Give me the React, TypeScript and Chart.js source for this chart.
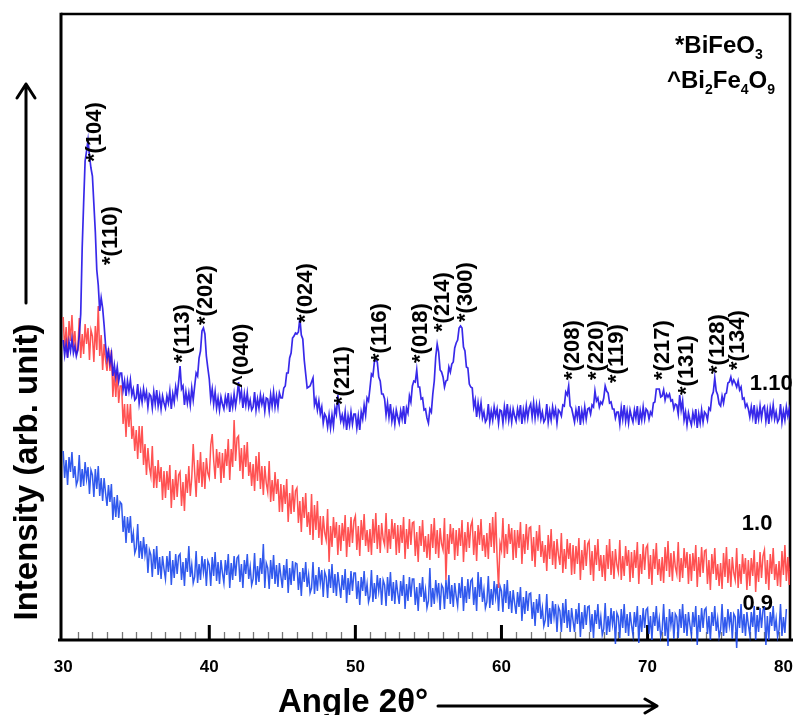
import React, { useEffect, useRef } from "react";
import { Chart, registerables } from "chart.js";

Chart.register(...registerables);

// 2θ sampling positions (degrees), one row per degree
const angles = [
  30, 30.1, 30.2, 30.3, 30.4, 30.5, 30.6, 30.7, 30.8, 30.9,
  31, 31.1, 31.2, 31.3, 31.4, 31.5, 31.6, 31.7, 31.8, 31.9,
  32, 32.1, 32.2, 32.3, 32.4, 32.5, 32.6, 32.7, 32.8, 32.9,
  33, 33.1, 33.2, 33.3, 33.4, 33.5, 33.6, 33.7, 33.8, 33.9,
  34, 34.1, 34.2, 34.3, 34.4, 34.5, 34.6, 34.7, 34.8, 34.9,
  35, 35.1, 35.2, 35.3, 35.4, 35.5, 35.6, 35.7, 35.8, 35.9,
  36, 36.1, 36.2, 36.3, 36.4, 36.5, 36.6, 36.7, 36.8, 36.9,
  37, 37.1, 37.2, 37.3, 37.4, 37.5, 37.6, 37.7, 37.8, 37.9,
  38, 38.1, 38.2, 38.3, 38.4, 38.5, 38.6, 38.7, 38.8, 38.9,
  39, 39.1, 39.2, 39.3, 39.4, 39.5, 39.6, 39.7, 39.8, 39.9,
  40, 40.1, 40.2, 40.3, 40.4, 40.5, 40.6, 40.7, 40.8, 40.9,
  41, 41.1, 41.2, 41.3, 41.4, 41.5, 41.6, 41.7, 41.8, 41.9,
  42, 42.1, 42.2, 42.3, 42.4, 42.5, 42.6, 42.7, 42.8, 42.9,
  43, 43.1, 43.2, 43.3, 43.4, 43.5, 43.6, 43.7, 43.8, 43.9,
  44, 44.1, 44.2, 44.3, 44.4, 44.5, 44.6, 44.7, 44.8, 44.9,
  45, 45.1, 45.2, 45.3, 45.4, 45.5, 45.6, 45.7, 45.8, 45.9,
  46, 46.1, 46.2, 46.3, 46.4, 46.5, 46.6, 46.7, 46.8, 46.9,
  47, 47.1, 47.2, 47.3, 47.4, 47.5, 47.6, 47.7, 47.8, 47.9,
  48, 48.1, 48.2, 48.3, 48.4, 48.5, 48.6, 48.7, 48.8, 48.9,
  49, 49.1, 49.2, 49.3, 49.4, 49.5, 49.6, 49.7, 49.8, 49.9,
  50, 50.1, 50.2, 50.3, 50.4, 50.5, 50.6, 50.7, 50.8, 50.9,
  51, 51.1, 51.2, 51.3, 51.4, 51.5, 51.6, 51.7, 51.8, 51.9,
  52, 52.1, 52.2, 52.3, 52.4, 52.5, 52.6, 52.7, 52.8, 52.9,
  53, 53.1, 53.2, 53.3, 53.4, 53.5, 53.6, 53.7, 53.8, 53.9,
  54, 54.1, 54.2, 54.3, 54.4, 54.5, 54.6, 54.7, 54.8, 54.9,
  55, 55.1, 55.2, 55.3, 55.4, 55.5, 55.6, 55.7, 55.8, 55.9,
  56, 56.1, 56.2, 56.3, 56.4, 56.5, 56.6, 56.7, 56.8, 56.9,
  57, 57.1, 57.2, 57.3, 57.4, 57.5, 57.6, 57.7, 57.8, 57.9,
  58, 58.1, 58.2, 58.3, 58.4, 58.5, 58.6, 58.7, 58.8, 58.9,
  59, 59.1, 59.2, 59.3, 59.4, 59.5, 59.6, 59.7, 59.8, 59.9,
  60, 60.1, 60.2, 60.3, 60.4, 60.5, 60.6, 60.7, 60.8, 60.9,
  61, 61.1, 61.2, 61.3, 61.4, 61.5, 61.6, 61.7, 61.8, 61.9,
  62, 62.1, 62.2, 62.3, 62.4, 62.5, 62.6, 62.7, 62.8, 62.9,
  63, 63.1, 63.2, 63.3, 63.4, 63.5, 63.6, 63.7, 63.8, 63.9,
  64, 64.1, 64.2, 64.3, 64.4, 64.5, 64.6, 64.7, 64.8, 64.9,
  65, 65.1, 65.2, 65.3, 65.4, 65.5, 65.6, 65.7, 65.8, 65.9,
  66, 66.1, 66.2, 66.3, 66.4, 66.5, 66.6, 66.7, 66.8, 66.9,
  67, 67.1, 67.2, 67.3, 67.4, 67.5, 67.6, 67.7, 67.8, 67.9,
  68, 68.1, 68.2, 68.3, 68.4, 68.5, 68.6, 68.7, 68.8, 68.9,
  69, 69.1, 69.2, 69.3, 69.4, 69.5, 69.6, 69.7, 69.8, 69.9,
  70, 70.1, 70.2, 70.3, 70.4, 70.5, 70.6, 70.7, 70.8, 70.9,
  71, 71.1, 71.2, 71.3, 71.4, 71.5, 71.6, 71.7, 71.8, 71.9,
  72, 72.1, 72.2, 72.3, 72.4, 72.5, 72.6, 72.7, 72.8, 72.9,
  73, 73.1, 73.2, 73.3, 73.4, 73.5, 73.6, 73.7, 73.8, 73.9,
  74, 74.1, 74.2, 74.3, 74.4, 74.5, 74.6, 74.7, 74.8, 74.9,
  75, 75.1, 75.2, 75.3, 75.4, 75.5, 75.6, 75.7, 75.8, 75.9,
  76, 76.1, 76.2, 76.3, 76.4, 76.5, 76.6, 76.7, 76.8, 76.9,
  77, 77.1, 77.2, 77.3, 77.4, 77.5, 77.6, 77.7, 77.8, 77.9,
  78, 78.1, 78.2, 78.3, 78.4, 78.5, 78.6, 78.7, 78.8, 78.9,
  79, 79.1, 79.2, 79.3, 79.4, 79.5, 79.6, 79.7, 79.8, 79.9,
  80,
];

// sample 1.10 (offset intensity, arb. unit)
const intensity110 = [
  300, 285, 296, 282, 298, 289, 301, 287, 294, 284,
  290, 305, 326, 392, 437, 479, 489, 500, 484, 472,
  464, 436, 408, 370, 355, 329, 342, 332, 315, 295,
  281, 289, 277, 286, 264, 275, 263, 273, 259, 267,
  267, 250, 259, 244, 259, 249, 260, 245, 251, 240,
  242, 256, 237, 248, 238, 251, 241, 248, 233, 246,
  244, 232, 248, 236, 250, 234, 244, 231, 244, 237,
  232, 244, 237, 249, 231, 246, 238, 253, 244, 258,
  274, 251, 254, 235, 248, 237, 247, 235, 252, 240,
  254, 267, 264, 282, 289, 309, 312, 306, 284, 272,
  261, 241, 251, 236, 248, 232, 242, 230, 243, 236,
  231, 243, 235, 247, 228, 242, 233, 246, 234, 244,
  258, 241, 249, 232, 246, 235, 247, 233, 240, 230,
  233, 248, 230, 241, 232, 245, 236, 243, 229, 242,
  241, 229, 245, 234, 248, 233, 244, 233, 247, 242,
  242, 252, 254, 267, 267, 282, 287, 302, 304, 307,
  306, 308, 322, 305, 301, 280, 266, 252, 253, 254,
  258, 262, 235, 241, 230, 239, 226, 233, 217, 226,
  223, 213, 225, 212, 225, 214, 232, 226, 245, 230,
  219, 225, 216, 228, 210, 224, 215, 228, 216, 226,
  226, 212, 224, 210, 228, 221, 235, 225, 242, 239,
  252, 266, 264, 278, 280, 278, 263, 259, 246, 246,
  241, 225, 237, 223, 236, 219, 228, 216, 230, 223,
  217, 229, 221, 234, 216, 232, 227, 244, 238, 254,
  259, 258, 270, 253, 253, 241, 242, 230, 231, 222,
  217, 231, 228, 246, 259, 283, 296, 288, 270, 268,
  263, 253, 259, 260, 273, 268, 276, 278, 292, 297,
  300, 312, 314, 312, 293, 289, 273, 272, 256, 253,
  252, 233, 240, 223, 237, 226, 237, 222, 228, 218,
  221, 236, 218, 229, 220, 233, 224, 231, 217, 230,
  229, 217, 233, 222, 236, 220, 230, 218, 231, 224,
  219, 231, 223, 235, 216, 230, 221, 234, 222, 232,
  236, 223, 237, 222, 235, 224, 235, 221, 228, 218,
  221, 236, 218, 229, 220, 233, 224, 231, 217, 230,
  228, 224, 235, 234, 248, 245, 254, 234, 232, 225,
  218, 230, 222, 234, 215, 229, 220, 233, 221, 231,
  232, 226, 235, 233, 249, 239, 242, 233, 238, 236,
  242, 254, 249, 247, 237, 238, 231, 231, 222, 228,
  228, 216, 232, 221, 235, 219, 229, 217, 230, 223,
  218, 230, 222, 234, 215, 229, 220, 233, 221, 231,
  229, 221, 228, 225, 237, 238, 251, 251, 251, 243,
  244, 250, 240, 246, 243, 246, 239, 240, 231, 236,
  235, 226, 245, 230, 239, 220, 228, 215, 227, 220,
  215, 227, 219, 231, 212, 226, 217, 230, 218, 228,
  226, 220, 232, 230, 244, 248, 262, 249, 245, 236,
  234, 244, 237, 246, 247, 257, 258, 263, 256, 260,
  257, 253, 259, 250, 253, 241, 242, 233, 236, 231,
  223, 233, 223, 235, 216, 230, 221, 234, 222, 232,
  234, 219, 230, 216, 232, 223, 235, 221, 228, 218,
  221, 236, 218, 229, 220, 233, 224, 231, 217, 230,
  226,
];

// sample 1.0
const intensity100 = [
  323, 289, 313, 283, 319, 299, 325, 293, 309, 287,
  290, 322, 282, 306, 286, 316, 296, 312, 280, 310,
  304, 278, 314, 290, 334, 284, 305, 270, 296, 280,
  269, 292, 269, 290, 243, 268, 243, 268, 237, 254,
  254, 216, 236, 203, 236, 213, 236, 201, 214, 189,
  210, 181, 214, 187, 214, 175, 196, 165, 192, 173,
  164, 194, 152, 174, 152, 180, 158, 173, 140, 169,
  142, 169, 150, 175, 132, 161, 140, 170, 143, 165,
  168, 134, 158, 129, 166, 147, 174, 144, 162, 196,
  168, 143, 180, 157, 188, 153, 178, 151, 182, 167,
  162, 195, 206, 180, 161, 191, 172, 188, 157, 187,
  162, 191, 174, 201, 160, 191, 173, 220, 179, 202,
  204, 169, 192, 161, 195, 173, 198, 164, 178, 154,
  176, 149, 184, 159, 188, 151, 174, 145, 174, 157,
  148, 179, 138, 160, 139, 168, 146, 161, 128, 156,
  128, 155, 136, 161, 118, 147, 126, 155, 128, 149,
  152, 117, 139, 108, 143, 122, 147, 113, 128, 105,
  146, 100, 135, 110, 139, 102, 124, 95, 124, 107,
  100, 131, 78, 114, 93, 123, 102, 118, 85, 115,
  89, 117, 99, 125, 83, 113, 93, 123, 97, 119,
  124, 90, 114, 84, 120, 100, 126, 94, 110, 88,
  111, 85, 121, 97, 127, 91, 115, 87, 117, 101,
  95, 127, 87, 111, 91, 121, 101, 117, 85, 115,
  87, 115, 97, 123, 81, 111, 91, 121, 95, 117,
  118, 84, 108, 78, 114, 94, 120, 88, 104, 82,
  106, 80, 116, 92, 122, 86, 110, 82, 112, 96,
  90, 122, 60, 106, 86, 116, 96, 112, 80, 110,
  84, 112, 94, 120, 78, 108, 88, 118, 92, 114,
  119, 85, 109, 79, 115, 95, 121, 89, 105, 83,
  107, 81, 117, 93, 123, 87, 128, 83, 52, 97,
  90, 122, 82, 106, 86, 116, 96, 112, 80, 110,
  82, 110, 92, 118, 76, 106, 86, 116, 90, 112,
  113, 79, 103, 73, 109, 89, 115, 83, 99, 77,
  95, 69, 105, 81, 111, 75, 99, 71, 101, 85,
  75, 107, 67, 91, 71, 101, 81, 97, 65, 95,
  66, 94, 76, 102, 60, 90, 70, 100, 74, 96,
  99, 65, 89, 59, 95, 75, 101, 69, 85, 63,
  85, 59, 95, 71, 101, 65, 89, 61, 91, 75,
  68, 100, 60, 84, 64, 94, 74, 90, 58, 88,
  62, 90, 72, 98, 56, 86, 66, 96, 70, 92,
  95, 61, 85, 55, 91, 71, 97, 65, 81, 59,
  83, 57, 93, 69, 99, 63, 87, 59, 89, 73,
  66, 98, 58, 82, 62, 92, 72, 88, 56, 86,
  59, 87, 69, 95, 53, 83, 63, 93, 67, 89,
  90, 56, 80, 50, 86, 66, 92, 60, 76, 54,
  77, 51, 87, 63, 93, 57, 81, 53, 83, 67,
  60, 92, 52, 76, 56, 86, 66, 82, 50, 80,
  54, 82, 64, 90, 48, 78, 58, 88, 62, 84,
  90, 56, 80, 50, 86, 66, 92, 60, 76, 54,
  79, 53, 89, 65, 95, 59, 83, 55, 85, 69,
  74,
];

// sample 0.9
const intensity090 = [
  189, 162, 180, 155, 183, 168, 188, 162, 174, 155,
  160, 185, 153, 171, 154, 178, 161, 173, 146, 170,
  165, 143, 171, 151, 174, 144, 162, 139, 162, 147,
  134, 155, 138, 156, 120, 143, 123, 145, 122, 138,
  136, 108, 124, 97, 123, 107, 124, 97, 107, 87,
  92, 116, 82, 99, 81, 103, 85, 96, 67, 90,
  85, 63, 91, 71, 94, 65, 83, 61, 84, 71,
  61, 84, 68, 89, 55, 80, 62, 86, 66, 84,
  86, 60, 78, 54, 82, 68, 94, 63, 75, 57,
  63, 89, 57, 76, 60, 84, 68, 81, 54, 79,
  75, 54, 83, 64, 88, 59, 78, 56, 80, 67,
  57, 80, 65, 86, 52, 77, 60, 84, 64, 82,
  84, 58, 76, 52, 80, 66, 86, 61, 73, 55,
  61, 87, 55, 74, 58, 82, 66, 96, 52, 77,
  72, 51, 80, 61, 85, 56, 75, 53, 77, 64,
  52, 75, 60, 81, 47, 72, 55, 79, 59, 77,
  76, 50, 68, 44, 72, 58, 78, 53, 65, 47,
  52, 78, 46, 65, 49, 73, 57, 70, 43, 68,
  63, 42, 71, 52, 76, 47, 66, 44, 68, 55,
  42, 65, 50, 71, 37, 62, 45, 69, 49, 67,
  67, 41, 59, 35, 63, 49, 69, 44, 56, 38,
  44, 70, 38, 57, 41, 65, 49, 62, 35, 60,
  55, 34, 63, 44, 68, 39, 58, 36, 60, 47,
  36, 59, 44, 65, 31, 56, 39, 63, 43, 61,
  61, 35, 53, 29, 57, 43, 63, 38, 50, 32,
  39, 72, 33, 52, 36, 60, 44, 57, 30, 55,
  52, 31, 60, 41, 65, 36, 55, 33, 57, 44,
  34, 57, 42, 63, 29, 54, 37, 61, 41, 59,
  61, 35, 53, 29, 68, 43, 63, 38, 50, 32,
  38, 64, 32, 51, 35, 59, 43, 56, 29, 54,
  49, 28, 56, 37, 60, 31, 49, 27, 50, 37,
  26, 48, 33, 53, 19, 43, 26, 49, 29, 46,
  47, 21, 38, 14, 41, 27, 46, 21, 32, 14,
  20, 46, 13, 32, 16, 39, 23, 36, 8, 33,
  29, 8, 37, 17, 41, 12, 30, 8, 32, 19,
  8, 31, 16, 37, 3, 28, 11, 35, 15, 33,
  34, 8, 26, 2, 30, 16, 36, 11, 23, 5,
  11, 37, 5, 24, 8, 32, 16, 29, -4, 27,
  23, 2, 31, 12, 36, 7, 26, 4, 28, 15,
  5, 28, 13, 34, -3, 25, 8, 32, 12, 30,
  32, 6, 24, 0, 28, 14, 34, 9, 21, 3,
  10, 36, 4, 23, -6, 31, 15, 28, 1, 26,
  23, 2, 31, 12, 36, 7, 26, 4, 28, 15,
  5, 28, 13, 34, -5, 25, 8, 32, 12, 30,
  32, 6, 24, 0, 28, 14, 34, 9, 21, 3,
  10, 36, 4, 23, 7, 31, 15, 28, 1, 26,
  23, -8, 31, 12, 36, 7, 26, 4, 28, 15,
  5, 28, 13, 34, 0, 25, 8, 32, 12, 30,
  32, -5, 24, 0, 28, 14, 34, 9, 21, 3,
  10, 36, 4, 23, 7, 31, null, null, null, null,
  null,
];

// x axis ticks
const xTickValues = [30, 40, 50, 60, 70, 80];
const xTickLabels = ["30", "40", "50", "60", "70", "80"];
const xMinorTicks = [
  31, 32, 33, 34, 35, 36, 37, 38, 39,
  41, 42, 43, 44, 45, 46, 47, 48, 49,
  51, 52, 53, 54, 55, 56, 57, 58, 59,
  61, 62, 63, 64, 65, 66, 67, 68, 69,
  71, 72, 73, 74, 75, 76, 77, 78, 79,
];

// peak (hkl) annotations: text, angle of label column, intensity where label starts
const peakLabels = [
  "*(104)", "*(110)", "*(113)", "*(202)", "^(040)", "*(024)", "*(211)", "*(116)", "*(018)",
  "*(214)", "*(300)", "*(208)", "*(220)", "*(119)", "*(217)", "*(131)", "*(128)", "*(134)",
];
const peakLabelAngles = [
  32.2, 33.3, 38.2, 39.8, 42.25, 46.6, 49.15, 51.7, 54.5,
  56.0, 57.55, 64.9, 66.55, 67.9, 71.05, 72.7, 74.8, 76.2,
];
const peakLabelLevels = [
  478, 375, 277, 315, 252, 317, 235, 278, 277,
  308, 318, 260, 260, 257, 260, 245, 266, 270,
];

// sample names
const sampleNames = ["1.10", "1.0", "0.9"];
const sampleLabelAngles = [77.0, 76.45, 76.5];
const sampleLabelLevels = [250, 110, 30];

// phase legend: [text, isSubscript]
const legendLines: [string, boolean][][] = [
  [["*BiFeO", false], ["3", true]],
  [["^Bi", false], ["2", true], ["Fe", false], ["4", true], ["O", false], ["9", true]],
];

const FONT = "'Liberation Sans', Arial, Helvetica, sans-serif";

const decorPlugin = {
  id: "decor",
  beforeDatasetsDraw(chart: any) {
    const { ctx, chartArea: a, scales } = chart;
    const x = scales.x;
    const y = scales.y;
    ctx.save();
    // sample names
    ctx.fillStyle = "#000";
    ctx.font = `bold 22px ${FONT}`;
    ctx.textAlign = "left";
    ctx.textBaseline = "alphabetic";
    sampleNames.forEach((t, i) => {
      ctx.fillText(t, x.getPixelForValue(sampleLabelAngles[i]), y.getPixelForValue(sampleLabelLevels[i]));
    });
    // minor ticks
    ctx.strokeStyle = "#777";
    ctx.lineWidth = 1.3;
    xMinorTicks.forEach((v) => {
      const px = Math.round(x.getPixelForValue(v)) + 0.5;
      ctx.beginPath();
      ctx.moveTo(px, a.bottom);
      ctx.lineTo(px, a.bottom - 8);
      ctx.stroke();
    });
    // major ticks
    ctx.strokeStyle = "#000";
    ctx.lineWidth = 3;
    xTickValues.forEach((v) => {
      const px = x.getPixelForValue(v);
      if (px < a.left + 3 || px > a.right - 3) return;
      ctx.beginPath();
      ctx.moveTo(px, a.bottom);
      ctx.lineTo(px, a.bottom - 15);
      ctx.stroke();
    });
    // frame
    ctx.lineWidth = 2.6;
    ctx.beginPath();
    ctx.moveTo(a.left, a.top);
    ctx.lineTo(a.right, a.top);
    ctx.lineTo(a.right, a.bottom);
    ctx.stroke();
    ctx.lineWidth = 3;
    ctx.beginPath();
    ctx.moveTo(a.left, a.top - 1.3);
    ctx.lineTo(a.left, a.bottom);
    ctx.moveTo(a.left - 3, a.bottom);
    ctx.lineTo(a.right + 3, a.bottom);
    ctx.stroke();
    ctx.restore();
  },
  afterDatasetsDraw(chart: any) {
    const { ctx, chartArea: a, scales, width } = chart;
    const x = scales.x;
    const y = scales.y;
    ctx.save();
    ctx.fillStyle = "#000";
    // peak labels (rotated)
    ctx.font = `bold 22px ${FONT}`;
    ctx.textAlign = "left";
    ctx.textBaseline = "middle";
    peakLabels.forEach((t, i) => {
      ctx.save();
      ctx.translate(x.getPixelForValue(peakLabelAngles[i]), y.getPixelForValue(peakLabelLevels[i]));
      ctx.rotate(-Math.PI / 2);
      ctx.fillText(t, 0, 0);
      ctx.restore();
    });
    // phase legend
    ctx.textBaseline = "alphabetic";
    const legendX = [a.right - 115, a.right - 123];
    const legendY = [a.top + 39, a.top + 74];
    legendLines.forEach((parts, li) => {
      let cx = legendX[li];
      parts.forEach(([t, sub]) => {
        ctx.font = sub ? `bold 14px ${FONT}` : `bold 24px ${FONT}`;
        ctx.fillText(t, cx, legendY[li] + (sub ? 6 : 0));
        cx += ctx.measureText(t).width;
      });
    });
    // x tick labels
    ctx.font = `bold 17px ${FONT}`;
    ctx.textAlign = "center";
    ctx.textBaseline = "middle";
    xTickValues.forEach((v, i) => {
      const w = ctx.measureText(xTickLabels[i]).width;
      let px = x.getPixelForValue(v);
      px = Math.min(px, width - w / 2 - 2);
      ctx.fillText(xTickLabels[i], px, a.bottom + 27);
    });
    // y title + arrow
    ctx.font = `bold 33px ${FONT}`;
    ctx.save();
    ctx.translate(a.left - 33, 472);
    ctx.rotate(-Math.PI / 2);
    ctx.textAlign = "center";
    ctx.textBaseline = "middle";
    ctx.fillText("Intensity (arb. unit)", 0, 0);
    ctx.restore();
    ctx.strokeStyle = "#000";
    ctx.lineWidth = 3;
    ctx.lineCap = "round";
    ctx.lineJoin = "round";
    const ax = a.left - 35;
    ctx.beginPath();
    ctx.moveTo(ax, 303);
    ctx.lineTo(ax, 84);
    ctx.moveTo(ax - 9, 98);
    ctx.lineTo(ax, 84);
    ctx.lineTo(ax + 9, 98);
    ctx.stroke();
    // x title + arrow
    ctx.textAlign = "left";
    ctx.textBaseline = "alphabetic";
    ctx.fillText("Angle 2θ°", 278, a.bottom + 72);
    const ay = a.bottom + 66;
    ctx.beginPath();
    ctx.moveTo(438, ay);
    ctx.lineTo(657, ay);
    ctx.moveTo(645, ay - 7);
    ctx.lineTo(657, ay);
    ctx.lineTo(645, ay + 7);
    ctx.stroke();
    ctx.restore();
  },
};

export default function App() {
  const canvasRef = useRef<HTMLCanvasElement | null>(null);

  useEffect(() => {
    const canvas = canvasRef.current;
    if (!canvas) return;
    const toPoints = (vals: (number | null)[]) => angles.map((a, i) => ({ x: a, y: vals[i] }));
    const chart = new Chart(canvas, {
      type: "line",
      data: {
        datasets: [
          {
            label: "1.10",
            data: toPoints(intensity110),
            borderColor: "rgba(34,18,232,0.9)",
            borderWidth: 1.7,
          },
          {
            label: "1.0",
            data: toPoints(intensity100),
            borderColor: "rgba(255,58,58,0.88)",
            borderWidth: 1.5,
          },
          {
            label: "0.9",
            data: toPoints(intensity090),
            borderColor: "rgba(20,66,234,0.88)",
            borderWidth: 1.5,
            clip: false,
          },
        ] as any,
      },
      options: {
        responsive: false,
        animation: false,
        events: [],
        layout: { padding: { left: 61, right: 5, top: 14, bottom: 75 } },
        plugins: { legend: { display: false }, tooltip: { enabled: false } },
        elements: { point: { radius: 0 }, line: { tension: 0 } },
        scales: {
          x: { type: "linear", min: 29.85, max: 79.75, display: false },
          y: { type: "linear", min: 0, max: 626, display: false },
        },
      } as any,
      plugins: [decorPlugin],
    });
    return () => chart.destroy();
  }, []);

  return (
    <div style={{ position: "fixed", left: 0, top: 0, width: 795, height: 715, background: "#fff" }}>
      <canvas ref={canvasRef} width={795} height={715} style={{ display: "block", width: 795, height: 715 }} />
    </div>
  );
}
